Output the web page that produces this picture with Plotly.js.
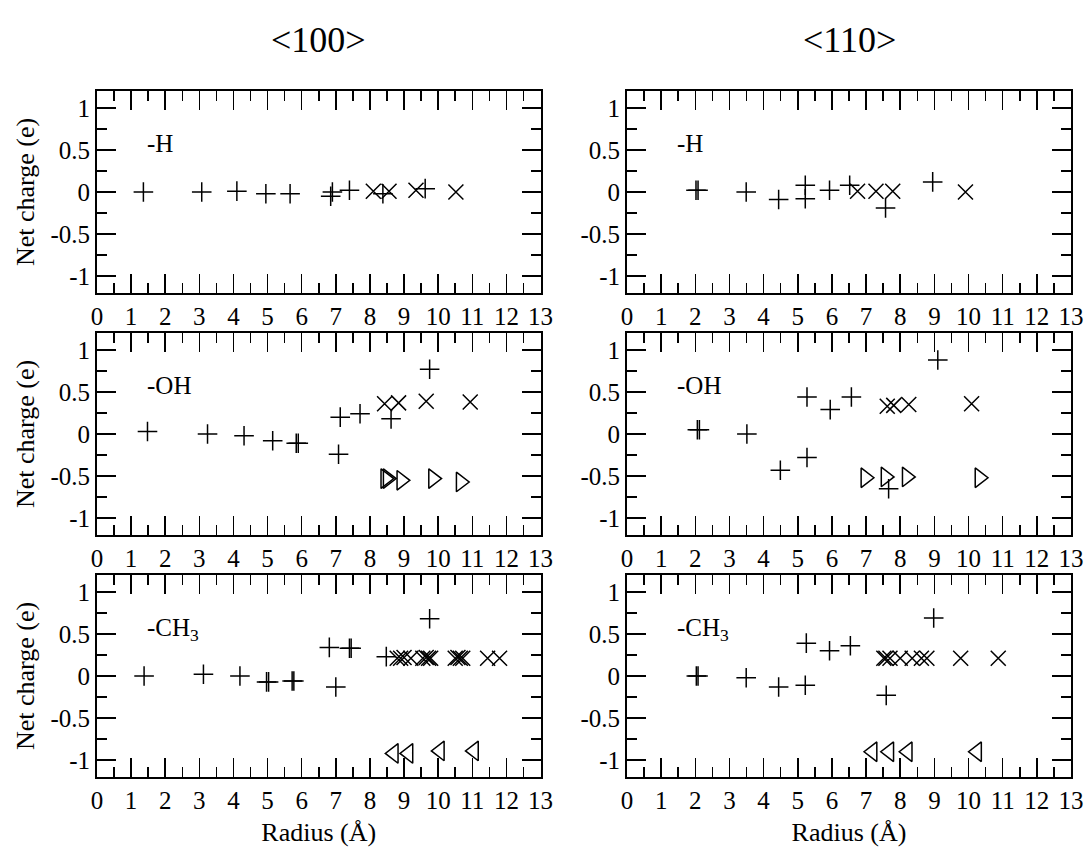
<!DOCTYPE html>
<html>
<head>
<meta charset="utf-8">
<script src="https://cdn.plot.ly/plotly-3.0.1.min.js"></script>
<style>
  html, body { margin: 0; padding: 0; background: #fff; }
  #chart { width: 1091px; height: 848px; }
</style>
</head>
<body>
<div id="chart"></div>
<script>
// Net charge vs. radius for -H, -OH and -CH3 terminations, <100> and <110> wires.

// Axis ticks
const radiusTicks = [0, 1, 2, 3, 4, 5, 6, 7, 8, 9, 10, 11, 12, 13];
const radiusTickText = ['0', '1', '2', '3', '4', '5', '6', '7', '8', '9', '10', '11', '12', '13'];
const chargeTicks = [-1, -0.5, 0, 0.5, 1];
const chargeTickText = ['-1', '-0.5', '0', '0.5', '1'];

// Column and row labels
const directions = ['&lt;100&gt;', '&lt;110&gt;'];
const terminations = ['-H', '-OH', '-CH<sub>3</sub>'];

// -H, <100>
const h100PlusR = [1.36, 3.07, 4.10, 4.95, 5.66, 6.85, 6.90, 7.40, 8.38, 9.62];
const h100PlusQ = [0.00, 0.00, 0.01, -0.02, -0.02, -0.05, 0.00, 0.02, -0.02, 0.04];
const h100CrossR = [8.10, 8.56, 9.35, 10.52];
const h100CrossQ = [0.01, 0.01, 0.02, 0.00];

// -H, <110>
const h110PlusR = [2.02, 2.08, 3.49, 4.44, 5.22, 5.22, 5.93, 6.52, 7.57, 8.95];
const h110PlusQ = [0.02, 0.02, 0.00, -0.09, 0.08, -0.08, 0.02, 0.08, -0.19, 0.12];
const h110CrossR = [6.75, 7.29, 7.78, 9.91];
const h110CrossQ = [0.01, 0.01, 0.01, 0.00];

// -OH, <100>
const oh100PlusR = [1.48, 3.24, 4.31, 5.15, 5.84, 5.90, 7.08, 7.13, 7.71, 8.62, 9.75];
const oh100PlusQ = [0.03, 0.00, -0.02, -0.08, -0.11, -0.11, -0.24, 0.20, 0.24, 0.18, 0.77];
const oh100CrossR = [8.43, 8.84, 9.65, 10.94];
const oh100CrossQ = [0.36, 0.37, 0.39, 0.38];
const oh100TriR = [8.45, 8.52, 8.92, 9.85, 10.66];
const oh100TriQ = [-0.53, -0.53, -0.55, -0.53, -0.57];

// -OH, <110>
const oh110PlusR = [2.06, 2.12, 3.51, 4.49, 5.27, 5.27, 5.95, 6.57, 7.66, 9.10];
const oh110PlusQ = [0.05, 0.05, 0.00, -0.43, -0.28, 0.44, 0.29, 0.44, -0.65, 0.88];
const oh110CrossR = [7.62, 7.81, 8.25, 10.09];
const oh110CrossQ = [0.33, 0.34, 0.35, 0.36];
const oh110TriR = [6.98, 7.57, 8.19, 10.32];
const oh110TriQ = [-0.52, -0.51, -0.51, -0.52];

// -CH3, <100>
const ch100PlusR = [1.38, 3.12, 4.19, 4.97, 5.03, 5.72, 5.77, 6.81, 7.00, 7.40, 7.45, 8.48, 9.75];
const ch100PlusQ = [0.00, 0.02, 0.00, -0.07, -0.07, -0.06, -0.06, 0.34, -0.13, 0.33, 0.33, 0.23, 0.68];
const ch100CrossR = [8.80, 8.90, 9.00, 9.20, 9.55, 9.65, 9.72, 9.78, 10.50, 10.58, 10.65, 10.72, 11.45, 11.80];
const ch100CrossQ = [0.21, 0.21, 0.22, 0.21, 0.21, 0.22, 0.21, 0.21, 0.21, 0.22, 0.21, 0.21, 0.21, 0.21];
const ch100TriR = [8.70, 9.13, 10.05, 11.05];
const ch100TriQ = [-0.92, -0.92, -0.89, -0.89];

// -CH3, <110>
const ch110PlusR = [2.03, 2.08, 3.49, 4.44, 5.22, 5.25, 5.93, 6.54, 7.59, 8.98];
const ch110PlusQ = [0.00, 0.00, -0.02, -0.13, -0.11, 0.39, 0.30, 0.36, -0.23, 0.69];
const ch110CrossR = [7.52, 7.58, 7.70, 8.00, 8.35, 8.62, 8.78, 9.77, 10.87];
const ch110CrossQ = [0.21, 0.21, 0.21, 0.21, 0.21, 0.21, 0.21, 0.21, 0.21];
const ch110TriR = [7.19, 7.68, 8.22, 10.25];
const ch110TriQ = [-0.90, -0.90, -0.90, -0.90];

const FONT = 'Liberation Serif';
const INK = '#000';
const TICK_SIZE = 25;
const TITLE_SIZE = 26;
const LABEL_SIZE = 25;
const HEAD_SIZE = 36;

function markerTrace(xs, ys, symbol, size, axisIdx) {
  const suffix = axisIdx === 1 ? '' : String(axisIdx);
  return {
    type: 'scatter',
    mode: 'markers',
    x: xs,
    y: ys,
    xaxis: 'x' + suffix,
    yaxis: 'y' + suffix,
    hoverinfo: 'skip',
    marker: {
      symbol: symbol,
      size: size,
      color: INK,
      line: { color: INK, width: 1.5 }
    }
  };
}

const PLUS = 'cross-thin-open';
const CROSS = 'x-thin-open';
const TRI_R = 'triangle-right-open';
const TRI_L = 'triangle-left-open';
const PLUS_SIZE = 14;
const CROSS_SIZE = 15;
const TRI_SIZE = 17;

const traces = [
  markerTrace(h100PlusR, h100PlusQ, PLUS, PLUS_SIZE, 1),
  markerTrace(h100CrossR, h100CrossQ, CROSS, CROSS_SIZE, 1),

  markerTrace(h110PlusR, h110PlusQ, PLUS, PLUS_SIZE, 2),
  markerTrace(h110CrossR, h110CrossQ, CROSS, CROSS_SIZE, 2),

  markerTrace(oh100PlusR, oh100PlusQ, PLUS, PLUS_SIZE, 3),
  markerTrace(oh100CrossR, oh100CrossQ, CROSS, CROSS_SIZE, 3),
  markerTrace(oh100TriR, oh100TriQ, TRI_R, TRI_SIZE, 3),

  markerTrace(oh110PlusR, oh110PlusQ, PLUS, PLUS_SIZE, 4),
  markerTrace(oh110CrossR, oh110CrossQ, CROSS, CROSS_SIZE, 4),
  markerTrace(oh110TriR, oh110TriQ, TRI_R, TRI_SIZE, 4),

  markerTrace(ch100PlusR, ch100PlusQ, PLUS, PLUS_SIZE, 5),
  markerTrace(ch100CrossR, ch100CrossQ, CROSS, CROSS_SIZE, 5),
  markerTrace(ch100TriR, ch100TriQ, TRI_L, TRI_SIZE, 5),

  markerTrace(ch110PlusR, ch110PlusQ, PLUS, PLUS_SIZE, 6),
  markerTrace(ch110CrossR, ch110CrossQ, CROSS, CROSS_SIZE, 6),
  markerTrace(ch110TriR, ch110TriQ, TRI_L, TRI_SIZE, 6)
];

// Panel frames in pixels of the 1091 x 848 page
const W = 1091, H = 848;
const colPx = [[97, 540.5], [627, 1071]];
const rowPx = [[91, 293], [333, 535], [575, 777]];
const xDom = colPx.map(c => [c[0] / W, c[1] / W]);
const yDom = rowPx.map(r => [1 - r[1] / H, 1 - r[0] / H]);

function xAxis(col, row, idx) {
  const ax = {
    domain: xDom[col],
    anchor: 'y' + (idx === 1 ? '' : idx),
    range: [0, 13],
    tickmode: 'array',
    tickvals: radiusTicks,
    ticktext: radiusTickText,
    ticks: 'inside',
    ticklen: 19,
    tickwidth: 1.5,
    tickcolor: INK,
    minor: { ticks: 'inside', ticklen: 10, tickwidth: 1.5, tickcolor: INK, tick0: 0, dtick: 0.5, showgrid: false },
    showline: true,
    linewidth: 2,
    linecolor: INK,
    mirror: 'ticks',
    showgrid: false,
    zeroline: false,
    fixedrange: true,
    tickfont: { family: FONT, size: TICK_SIZE, color: INK }
  };
  if (row === 2) {
    ax.title = { text: 'Radius (Å)', font: { family: FONT, size: TITLE_SIZE, color: INK }, standoff: 10 };
  }
  return ax;
}

function yAxis(col, row, idx) {
  const ax = {
    domain: yDom[row],
    anchor: 'x' + (idx === 1 ? '' : idx),
    range: [-1.2, 1.2],
    tickmode: 'array',
    tickvals: chargeTicks,
    ticktext: chargeTickText,
    ticks: 'inside',
    ticklen: 19,
    tickwidth: 1.5,
    tickcolor: INK,
    minor: { ticks: 'inside', ticklen: 10, tickwidth: 1.5, tickcolor: INK, tick0: 0, dtick: 0.25, showgrid: false },
    showline: true,
    linewidth: 2,
    linecolor: INK,
    mirror: 'ticks',
    showgrid: false,
    zeroline: false,
    fixedrange: true,
    tickfont: { family: FONT, size: TICK_SIZE, color: INK }
  };
  if (col === 0) {
    ax.title = { text: 'Net charge (e)', font: { family: FONT, size: TITLE_SIZE, color: INK }, standoff: 8 };
  }
  return ax;
}

const layout = {
  width: W,
  height: H,
  margin: { l: 0, r: 0, t: 0, b: 0 },
  paper_bgcolor: '#fff',
  plot_bgcolor: '#fff',
  showlegend: false,
  font: { family: FONT, size: TICK_SIZE, color: INK },
  annotations: []
};

let idx = 1;
for (let row = 0; row < 3; row++) {
  for (let col = 0; col < 2; col++) {
    const s = idx === 1 ? '' : String(idx);
    layout['xaxis' + s] = xAxis(col, row, idx);
    layout['yaxis' + s] = yAxis(col, row, idx);
    // termination label inside each panel
    layout.annotations.push({
      xref: 'x' + s, yref: 'y' + s,
      x: 1.4, y: row === 2 ? 0.55 : 0.58,
      xanchor: 'left', yanchor: 'middle',
      text: terminations[row],
      showarrow: false,
      font: { family: FONT, size: LABEL_SIZE, color: INK }
    });
    idx++;
  }
}

// column headings
directions.forEach((d, col) => {
  layout.annotations.push({
    xref: 'paper', yref: 'paper',
    x: (xDom[col][0] + xDom[col][1]) / 2,
    y: 1 - 40 / H,
    xanchor: 'center', yanchor: 'middle',
    text: d,
    showarrow: false,
    font: { family: FONT, size: HEAD_SIZE, color: INK }
  });
});

Plotly.newPlot('chart', traces, layout, { staticPlot: true, displayModeBar: false });
</script>
</body>
</html>
